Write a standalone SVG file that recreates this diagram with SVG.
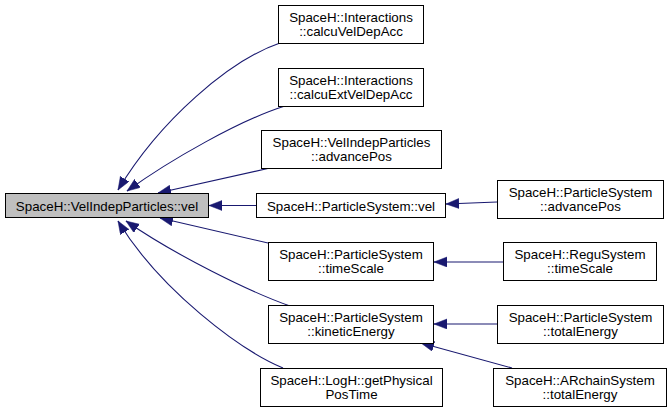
<svg xmlns="http://www.w3.org/2000/svg" width="671" height="412" viewBox="0 0 671 412">
<style>
.node rect{fill:#ffffff;stroke:#000000;stroke-width:1}
.node.main rect{fill:#bfbfbf}
.node text{font-family:"Liberation Sans",Arial,Helvetica,sans-serif;font-size:13.33px;fill:#000000;text-anchor:middle}
.edges path{fill:none;stroke:#191970;stroke-width:1.1;marker-end:url(#arrow)}
</style>
<defs>
<marker id="arrow" markerUnits="userSpaceOnUse" markerWidth="15" markerHeight="11" refX="13" refY="5" orient="auto">
<path d="M0,0 L13,5 L0,10 z" fill="#191970" stroke="#191970" stroke-width="0.5"/>
</marker>
</defs>
<rect width="671" height="412" fill="#ffffff"/>
<g id="edges" class="edges">
<path d="M280,43 C230,60 160,120 118,190"/>
<path d="M285,106 C240,120 170,160 127,191"/>
<path d="M270,168 L158,193"/>
<path d="M257,205.5 L209,205.5"/>
<path d="M268,243 L160,218"/>
<path d="M290,306 C250,292 175,255 126,221"/>
<path d="M283,368 C240,350 160,290 118,221"/>
<path d="M497,202 L446,204"/>
<path d="M503,262 L434,262"/>
<path d="M497,324 L434,324"/>
<path d="M512,368 L421,343"/>
</g>
<g id="node-main" class="node main">
<rect x="5.5" y="193.5" width="203" height="24"/>
<text x="107" y="210.5">SpaceH::VelIndepParticles::vel</text>
</g>
<g id="node-calcuVelDepAcc" class="node">
<rect x="278.5" y="5.5" width="145" height="38"/>
<text x="351" y="22">SpaceH::Interactions</text>
<text x="351" y="35.5">::calcuVelDepAcc</text>
</g>
<g id="node-calcuExtVelDepAcc" class="node">
<rect x="278.5" y="68.5" width="145" height="38"/>
<text x="351" y="85">SpaceH::Interactions</text>
<text x="351" y="98.5">::calcuExtVelDepAcc</text>
</g>
<g id="node-vip-advancePos" class="node">
<rect x="261.5" y="130.5" width="180" height="38"/>
<text x="351.5" y="147">SpaceH::VelIndepParticles</text>
<text x="351.5" y="160.5">::advancePos</text>
</g>
<g id="node-ps-vel" class="node">
<rect x="256.5" y="193.5" width="189" height="24"/>
<text x="351" y="210.5">SpaceH::ParticleSystem::vel</text>
</g>
<g id="node-ps-timeScale" class="node">
<rect x="268.5" y="242.5" width="165" height="38"/>
<text x="351" y="259">SpaceH::ParticleSystem</text>
<text x="351" y="272.5">::timeScale</text>
</g>
<g id="node-ps-kineticEnergy" class="node">
<rect x="268.5" y="305.5" width="165" height="38"/>
<text x="351" y="322">SpaceH::ParticleSystem</text>
<text x="351" y="335.5">::kineticEnergy</text>
</g>
<g id="node-logh" class="node">
<rect x="260.5" y="368.5" width="182" height="38"/>
<text x="351.5" y="385">SpaceH::LogH::getPhysical</text>
<text x="351.5" y="398.5">PosTime</text>
</g>
<g id="node-ps-advancePos" class="node">
<rect x="497.5" y="180.5" width="166" height="38"/>
<text x="580.5" y="197">SpaceH::ParticleSystem</text>
<text x="580.5" y="210.5">::advancePos</text>
</g>
<g id="node-regu-timeScale" class="node">
<rect x="503.5" y="242.5" width="153" height="38"/>
<text x="580" y="259">SpaceH::ReguSystem</text>
<text x="580" y="272.5">::timeScale</text>
</g>
<g id="node-ps-totalEnergy" class="node">
<rect x="497.5" y="305.5" width="166" height="38"/>
<text x="580.5" y="322">SpaceH::ParticleSystem</text>
<text x="580.5" y="335.5">::totalEnergy</text>
</g>
<g id="node-archain-totalEnergy" class="node">
<rect x="493.5" y="368.5" width="173" height="38"/>
<text x="580" y="385">SpaceH::ARchainSystem</text>
<text x="580" y="398.5">::totalEnergy</text>
</g>
</svg>
